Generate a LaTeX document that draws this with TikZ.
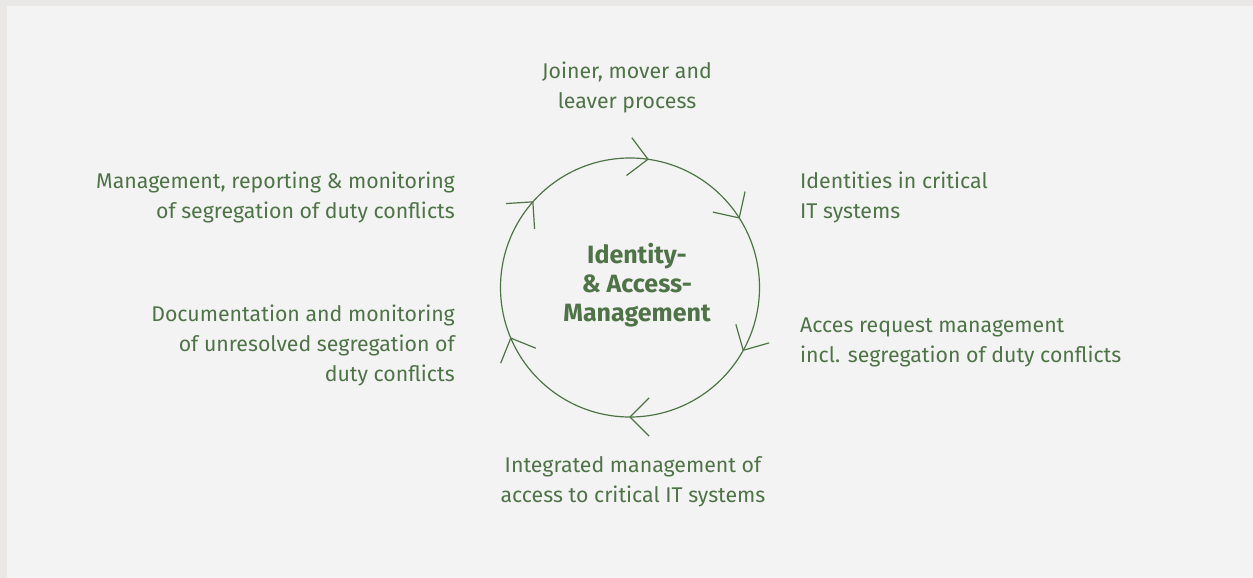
\documentclass[tikz,border=0pt]{standalone}
\usepackage{fontspec}
\setmainfont{Fira Sans}
\usepackage{xcolor}
\usepackage{tikz}
\usetikzlibrary{positioning}

\definecolor{leaf}{HTML}{4E7346}
\definecolor{pale}{HTML}{F3F3F3}
\definecolor{rim}{HTML}{E9E8E6}

\begin{document}
\begin{tikzpicture}[x=1pt, y=-1pt,
    ring/.style={draw=leaf, line width=1.2pt},
    step label/.style={text=leaf, inner sep=0pt, font=\fontsize{21.3}{30}\selectfont},
    hub/.style={text=leaf, inner sep=0pt, align=center, font=\fontsize{25}{29}\selectfont\bfseries}]
        % Fond
        \fill[rim] (0,0) rectangle (1253,578);
        \fill[pale] (7,6) rectangle (1253,578);
        \useasboundingbox (0,0) rectangle (1253,578);

        % Cycle
        \coordinate (c) at (630,287.5);
        \draw[ring] (c) circle (129.5);
        \foreach \a in {-82,-32.5,29,90,157,221.4}
            \draw[ring] (c) ++(\a:129.5) coordinate (tip) -- ++(\a-45:27) (tip) -- ++(\a-135:27);

        \node[hub] (iam) at (637,285) {Identity-\\ \& Access-\\ Management};

        % Étapes (ancre base = dernière ligne)
        \node[step label, align=center, anchor=base] (joiner) at (627,108) {Joiner, mover and\\ leaver process};
        \node[step label, align=left, anchor=base west] (identities) at (800,218) {Identities in critical\\ IT systems};
        \node[step label, align=left, anchor=base west] (request) at (800,362) {Acces request management\\ incl. segregation of duty conflicts};
        \node[step label, align=center, anchor=base] (integrated) at (633,502) {Integrated management of\\ access to critical IT systems};
        \node[step label, align=right, anchor=base east] (documentation) at (455,381) {Documentation and monitoring\\ of unresolved segregation of\\ duty conflicts};
        \node[step label, align=right, anchor=base east] (reporting) at (455,218) {Management, reporting \& monitoring\\ of segregation of duty conflicts};
    \end{tikzpicture}
\end{document}
